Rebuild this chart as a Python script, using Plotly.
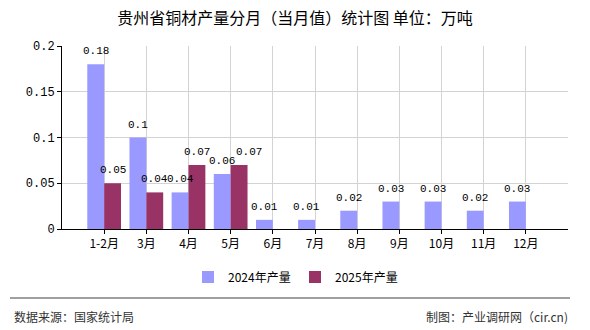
import plotly.graph_objects as go

categories = ["1-2月", "3月", "4月", "5月", "6月", "7月", "8月", "9月", "10月", "11月", "12月"]
values_2024 = [0.18, 0.1, 0.04, 0.06, 0.01, 0.01, 0.02, 0.03, 0.03, 0.02, 0.03]
values_2025 = [0.05, 0.04, 0.07, 0.07, None, None, None, None, None, None, None]
y_ticks = [0, 0.05, 0.1, 0.15, 0.2]
y_tick_labels = ["0", "0.05", "0.1", "0.15", "0.2"]

mono = "Liberation Mono, DejaVu Sans Mono, monospace"
cjk = "Noto Sans CJK SC, sans-serif"
label_font = dict(family=mono, size=11, color="#000000")

fig = go.Figure()
fig.add_trace(go.Bar(
    x=categories, y=values_2024, name="2024年产量",
    marker=dict(color="#9999FF", line=dict(width=0)),
    offsetgroup="a",
))
fig.add_trace(go.Bar(
    x=categories, y=values_2025, name="2025年产量",
    marker=dict(color="#993366", line=dict(width=0)),
    offsetgroup="b",
))

# value labels placed above each bar (from data)
annos = []
bar_half = 0.2  # category fraction offset of each bar centre
for i, (c, v) in enumerate(zip(categories, values_2024)):
    annos.append(dict(x=i - bar_half, y=v, xref="x", yref="y", text=f"{v:g}",
                      showarrow=False, yanchor="bottom", yshift=5, font=label_font))
for i, (c, v) in enumerate(zip(categories, values_2025)):
    if v is None:
        continue
    xs = 10 if i == 3 else 0
    annos.append(dict(x=i + bar_half, y=v, xref="x", yref="y", text=f"{v:g}",
                      showarrow=False, yanchor="bottom", yshift=5, xshift=xs, font=label_font))

annos += [
    dict(text="数据来源：国家统计局", xref="paper", yref="paper",
         x=-50 / 506, y=-(316.5 - 229) / 183, xanchor="left", yanchor="middle",
         showarrow=False, font=dict(family=cjk, size=12, color="#333333")),
    dict(text="制图：产业调研网（cir.cn)", xref="paper", yref="paper",
         x=508 / 506, y=-(316.5 - 229) / 183, xanchor="right", yanchor="middle",
         showarrow=False, font=dict(family=cjk, size=12, color="#333333")),
]

fig.update_layout(
    width=590, height=330,
    margin=dict(l=62, r=22, t=46, b=101),
    paper_bgcolor="white", plot_bgcolor="white",
    barmode="group", bargap=0.2, bargroupgap=0,
    showlegend=True,
    title=dict(text="贵州省铜材产量分月（当月值）统计图 单位：万吨",
               x=0.5, xanchor="center", y=1 - 18 / 330, yanchor="middle",
               xref="container", yref="container",
               font=dict(family=cjk, size=16, color="#000000")),
    legend=dict(orientation="h", x=0.5, xanchor="center", xref="container",
                y=1 - 277 / 330, yanchor="middle", yref="container",
                font=dict(family=cjk, size=12, color="#000000"),
                itemwidth=30, entrywidth=62, entrywidthmode="pixels",
                traceorder="normal", tracegroupgap=0),
    xaxis=dict(
        type="category", range=[-1, 11],
        showline=True, linecolor="#000000", linewidth=1,
        ticks="outside", ticklen=4, tickcolor="#000000",
        showgrid=True, gridcolor="#d3d3d3", gridwidth=1,
        tickfont=dict(family=cjk, size=12, color="#000000"),
        fixedrange=True,
    ),
    yaxis=dict(
        range=[0, 0.2], tickvals=y_ticks, ticktext=y_tick_labels,
        showline=True, linecolor="#000000", linewidth=1,
        ticks="outside", ticklen=4, tickcolor="#000000",
        showgrid=True, gridcolor="#d3d3d3", gridwidth=1,
        zeroline=False,
        tickfont=dict(family=mono, size=12, color="#000000"),
        fixedrange=True,
    ),
    shapes=[dict(type="line", xref="paper", yref="paper",
                 x0=-52 / 506, x1=508 / 506, y0=-(298 - 229) / 183, y1=-(298 - 229) / 183,
                 line=dict(color="#808080", width=1.5))],
    annotations=annos,
)

fig.write_html("out.html", config={"displayModeBar": False})
